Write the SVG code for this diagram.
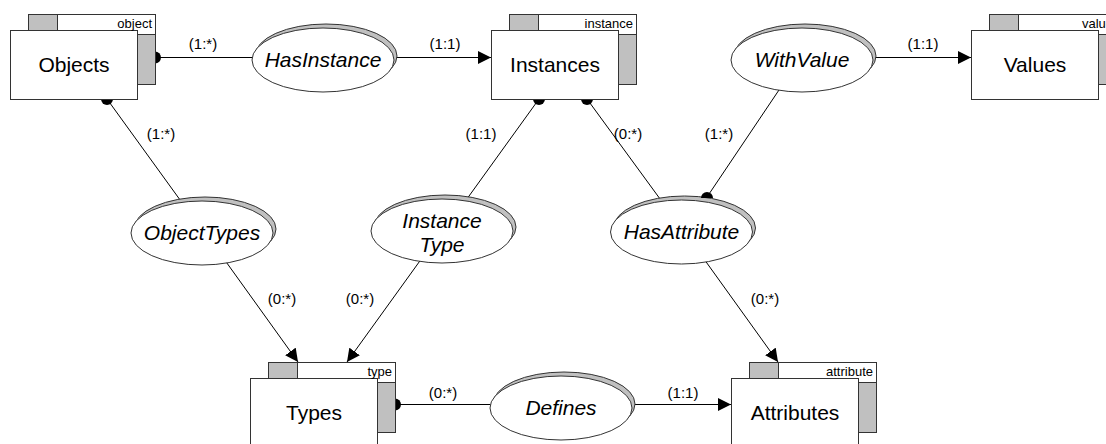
<svg xmlns="http://www.w3.org/2000/svg" width="1106" height="444" viewBox="0 0 1106 444">
<style>
.bg{fill:#fff;stroke:#333;stroke-width:1}
.gr{fill:#c0c0c0;stroke:#333;stroke-width:1}
.fr{fill:#fff;stroke:#333;stroke-width:1}
.nm{font-family:"Liberation Sans",Arial,sans-serif;font-size:21px;fill:#000;text-anchor:middle}
.it{font-family:"Liberation Sans",Arial,sans-serif;font-size:21px;font-style:italic;fill:#000;text-anchor:middle}
.sm{font-family:"Liberation Sans",Arial,sans-serif;font-size:13px;fill:#000;text-anchor:end}
.lb{font-family:"Liberation Sans",Arial,sans-serif;font-size:15px;fill:#000;text-anchor:middle}
.ln{fill:none;stroke:#000;stroke-width:1}
.dot{fill:#000}
</style>
<defs>
<marker id="arr" markerUnits="userSpaceOnUse" viewBox="0 0 14 13" markerWidth="14" markerHeight="13" refX="13" refY="6.5" orient="auto">
<path d="M0,0 L13,6.5 L0,13 Z" fill="#000"/>
</marker>
</defs>

<g id="connectors">
<line class="ln" x1="155" y1="57.5" x2="262" y2="57.5"/>
<line class="ln" x1="388" y1="57.5" x2="491" y2="57.5" marker-end="url(#arr)"/>
<line class="ln" x1="866" y1="57.5" x2="971" y2="57.5" marker-end="url(#arr)"/>
<line class="ln" x1="107" y1="99" x2="183" y2="204"/>
<line class="ln" x1="224" y1="259" x2="298" y2="362" marker-end="url(#arr)"/>
<line class="ln" x1="539" y1="99" x2="464" y2="203"/>
<line class="ln" x1="422" y1="258" x2="347" y2="362" marker-end="url(#arr)"/>
<line class="ln" x1="587" y1="99" x2="663" y2="203"/>
<line class="ln" x1="781" y1="87" x2="705" y2="200"/>
<line class="ln" x1="704" y1="259" x2="778" y2="362" marker-end="url(#arr)"/>
<line class="ln" x1="395" y1="404.5" x2="502" y2="404.5"/>
<line class="ln" x1="624" y1="404.5" x2="731" y2="404.5" marker-end="url(#arr)"/>
<circle class="dot" cx="155" cy="57.5" r="6"/>
<circle class="dot" cx="107" cy="99" r="6"/>
<circle class="dot" cx="539" cy="99" r="6"/>
<circle class="dot" cx="587" cy="99" r="6"/>
<circle class="dot" cx="395" cy="404.5" r="6"/>
<text class="lb" x="203" y="49">(1:*)</text>
<text class="lb" x="445" y="49">(1:1)</text>
<text class="lb" x="923" y="49">(1:1)</text>
<text class="lb" x="161" y="139">(1:*)</text>
<text class="lb" x="481" y="139">(1:1)</text>
<text class="lb" x="628" y="139">(0:*)</text>
<text class="lb" x="719" y="139">(1:*)</text>
<text class="lb" x="282" y="304">(0:*)</text>
<text class="lb" x="360" y="304">(0:*)</text>
<text class="lb" x="765" y="304">(0:*)</text>
<text class="lb" x="443" y="398">(0:*)</text>
<text class="lb" x="683" y="398">(1:1)</text>
</g>

<g id="objects">
<rect class="bg" x="28.5" y="14.5" width="127" height="70"/>
<rect class="gr" x="28.5" y="14.5" width="29" height="16"/>
<rect class="gr" x="137.5" y="34.5" width="18" height="50"/>
<rect class="fr" x="10.5" y="30.5" width="127" height="69"/>
<text class="sm" x="152" y="28">object</text>
<text class="nm" x="74" y="72">Objects</text>
</g>

<g id="instances">
<rect class="bg" x="509.5" y="14.5" width="127" height="70"/>
<rect class="gr" x="509.5" y="14.5" width="29" height="16"/>
<rect class="gr" x="618.5" y="34.5" width="18" height="50"/>
<rect class="fr" x="491.5" y="30.5" width="127" height="69"/>
<text class="sm" x="633" y="28">instance</text>
<text class="nm" x="555" y="72">Instances</text>
</g>

<g id="values">
<rect class="bg" x="989.5" y="14.5" width="127" height="70"/>
<rect class="gr" x="989.5" y="14.5" width="29" height="16"/>
<rect class="gr" x="1098.5" y="34.5" width="18" height="50"/>
<rect class="fr" x="971.5" y="30.5" width="127" height="69"/>
<text class="sm" x="1113" y="28">value</text>
<text class="nm" x="1035" y="72">Values</text>
</g>

<g id="types">
<rect class="bg" x="268.5" y="362.5" width="127" height="70"/>
<rect class="gr" x="268.5" y="362.5" width="29" height="16"/>
<rect class="gr" x="377.5" y="382.5" width="18" height="50"/>
<rect class="fr" x="250.5" y="378.5" width="127" height="69"/>
<text class="sm" x="392" y="376">type</text>
<text class="nm" x="314" y="420">Types</text>
</g>

<g id="attributes">
<rect class="bg" x="749.5" y="362.5" width="127" height="70"/>
<rect class="gr" x="749.5" y="362.5" width="29" height="16"/>
<rect class="gr" x="858.5" y="382.5" width="18" height="50"/>
<rect class="fr" x="731.5" y="378.5" width="127" height="69"/>
<text class="sm" x="873" y="376">attribute</text>
<text class="nm" x="795" y="420">Attributes</text>
</g>

<g id="hasinstance">
<ellipse class="gr" cx="326" cy="56" rx="71" ry="32"/>
<ellipse class="fr" cx="323" cy="60" rx="71" ry="32"/>
<text class="it" x="323" y="67">HasInstance</text>
</g>

<g id="withvalue">
<ellipse class="gr" cx="805" cy="56" rx="71" ry="32"/>
<ellipse class="fr" cx="802" cy="60" rx="71" ry="32"/>
<text class="it" x="802" y="67">WithValue</text>
</g>

<g id="objecttypes">
<ellipse class="gr" cx="205" cy="229" rx="71" ry="32"/>
<ellipse class="fr" cx="202" cy="233" rx="71" ry="32"/>
<text class="it" x="202" y="240">ObjectTypes</text>
</g>

<g id="instancetype">
<ellipse class="gr" cx="445" cy="227" rx="71" ry="32"/>
<ellipse class="fr" cx="442" cy="231" rx="71" ry="32"/>
<text class="it" x="442" y="228">Instance</text>
<text class="it" x="442" y="252">Type</text>
</g>

<g id="hasattribute">
<ellipse class="gr" cx="684.5" cy="228" rx="71" ry="32"/>
<ellipse class="fr" cx="681.5" cy="232" rx="71" ry="32"/>
<text class="it" x="681.5" y="239">HasAttribute</text>
<path class="dot" d="M701,198 A6,6 0 0 1 713,198 Z"/>
</g>

<g id="defines">
<ellipse class="gr" cx="564" cy="404" rx="71" ry="32"/>
<ellipse class="fr" cx="561" cy="408" rx="71" ry="32"/>
<text class="it" x="561" y="415">Defines</text>
</g>
</svg>
